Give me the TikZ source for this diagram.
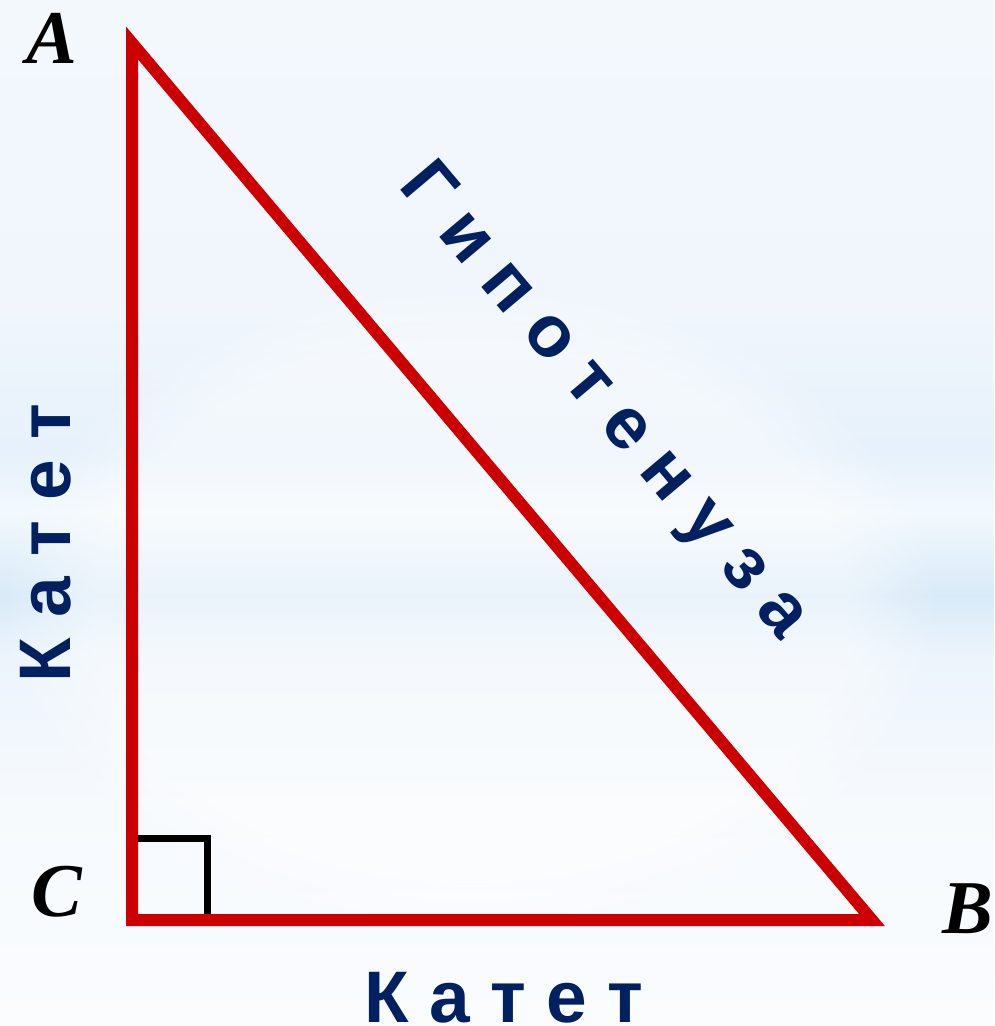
\documentclass[tikz,border=0pt]{standalone}
\usepackage{fontspec}
\setmainfont{Liberation Serif}
\newfontfamily\katfont{Liberation Sans}
\usetikzlibrary{fadings}
\definecolor{tri}{RGB}{204,0,0}
\definecolor{navy}{RGB}{0,32,96}
\definecolor{bgtop}{RGB}{243,248,253}
\definecolor{bgupper}{RGB}{240,246,252}
\definecolor{bgband1}{RGB}{230,241,251}
\definecolor{bglight}{RGB}{242,248,253}
\definecolor{bgband2}{RGB}{216,234,248}
\definecolor{bglow}{RGB}{236,244,252}
\definecolor{bgbot}{RGB}{250,252,254}
\pgfdeclareverticalshading{bgshade}{100bp}{color(0bp)=(bgbot); color(25bp)=(bgbot); color(36bp)=(bgbot!70!bglow); color(43bp)=(bglow); color(46bp)=(bgband2); color(50bp)=(bglight); color(53bp)=(bgband1); color(60bp)=(bgupper); color(75bp)=(bgtop); color(100bp)=(bgtop)}
\begin{document}
\begin{tikzpicture}[x=1pt,y=1pt,
  leg/.style={draw=tri, line width=12pt, line join=miter},
  rightbox/.style={draw=black, line width=7pt},
  vlabel/.style={font=\bfseries\itshape\fontsize{76}{80}\selectfont, anchor=base, inner sep=0pt},
  side/.style={text=navy, font=\katfont\bfseries\fontsize{73}{80}\selectfont, anchor=base, inner sep=0pt}]
\useasboundingbox (0,0) rectangle (994,-1026);
\shade[shading=bgshade] (0,0) rectangle (994,-1026);
\fill[white, path fading=circle with fuzzy edge 20 percent, opacity=0.45] (470,-610) ellipse [x radius=470, y radius=330];
\coordinate (A) at (132,-43);
\coordinate (B) at (872,-920);
\coordinate (C) at (132,-920);
\coordinate (R) at (207,-838);
\draw[rightbox] (C) rectangle (R);
\draw[leg] (A) -- (B) -- (C) -- cycle;
\node[vlabel] (lA) at (52,-63) {A};
\node[vlabel] (lB) at (968,-933) {B};
\node[vlabel] (lC) at (57,-916) {C};
\node[side] (kb) at (504,-1022) {К а т е т};
\node[side, rotate=90] (kl) at (70,-543) {К а т е т};
\node[side, rotate=-49.85] (hyp) at (589,-414) {Г и п о т е н у з а};
\end{tikzpicture}
\end{document}
